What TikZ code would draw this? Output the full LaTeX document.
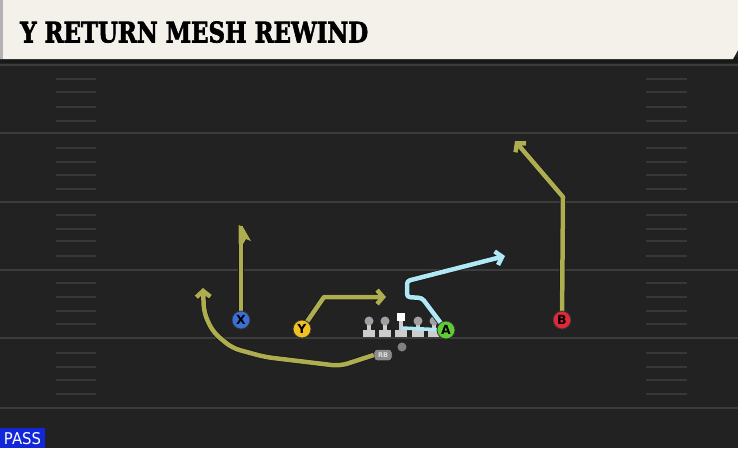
\documentclass[tikz,border=0pt]{standalone}
\usepackage{fontspec}
\usepackage{graphicx}
\usetikzlibrary{arrows.meta}
\newfontfamily\titlefont{DejaVu Serif}[FakeBold=2.5]
\newfontfamily\labelfont{DejaVu Sans}
\definecolor{fieldbg}{RGB}{34,34,34}
\definecolor{yardline}{RGB}{60,60,60}
\definecolor{hashline}{RGB}{56,56,56}
\definecolor{headerbg}{RGB}{244,241,234}
\definecolor{routeolive}{RGB}{174,174,80}
\definecolor{routecyan}{RGB}{176,232,246}
\definecolor{xblue}{RGB}{58,112,214}
\definecolor{yyellow}{RGB}{242,192,34}
\definecolor{agreen}{RGB}{96,204,52}
\definecolor{bred}{RGB}{222,42,54}
\definecolor{passblue}{RGB}{18,38,218}
\definecolor{olhead}{RGB}{160,160,160}
\definecolor{olbody}{RGB}{205,205,205}

\begin{document}
\begin{tikzpicture}[x=1pt,y=-1pt]
\tikzstyle{every node}+=[inner sep=0pt]
\tikzstyle{yard}=[yardline, line width=2.2pt]
\tikzstyle{hash}=[hashline, line width=1.8pt]
\tikzstyle{player}=[circle, draw=black!80, line width=0.8pt, minimum size=18pt, font=\labelfont\bfseries\fontsize{12.5}{12.5}\selectfont]
\tikzstyle{route}=[routeolive, line width=4.5pt, line join=round, -{Straight Barb[length=6pt,width=14pt]}, preaction={draw=black!90, line width=6pt}]
\tikzstyle{cyanroute}=[routecyan, line width=4.5pt, line join=round, -{Straight Barb[length=6pt,width=14pt]}, preaction={draw=black!90, line width=6pt}]
\useasboundingbox (0,0) rectangle (738,448);
\fill [fieldbg] (0,0) rectangle (738,448);
\draw [yard] (0,65) -- (738,65);
\draw [yard] (0,133) -- (738,133);
\draw [yard] (0,202) -- (738,202);
\draw [yard] (0,270) -- (738,270);
\draw [yard] (0,338) -- (738,338);
\draw [yard] (0,408) -- (738,408);
\draw [hash] (56,79) -- (96,79) (646,79) -- (687,79);
\draw [hash] (56,92) -- (96,92) (646,92) -- (687,92);
\draw [hash] (56,107) -- (96,107) (646,107) -- (687,107);
\draw [hash] (56,121) -- (96,121) (646,121) -- (687,121);
\draw [hash] (56,148) -- (96,148) (646,148) -- (687,148);
\draw [hash] (56,162) -- (96,162) (646,162) -- (687,162);
\draw [hash] (56,175) -- (96,175) (646,175) -- (687,175);
\draw [hash] (56,189) -- (96,189) (646,189) -- (687,189);
\draw [hash] (56,215) -- (96,215) (646,215) -- (687,215);
\draw [hash] (56,229) -- (96,229) (646,229) -- (687,229);
\draw [hash] (56,241) -- (96,241) (646,241) -- (687,241);
\draw [hash] (56,256) -- (96,256) (646,256) -- (687,256);
\draw [hash] (56,283) -- (96,283) (646,283) -- (687,283);
\draw [hash] (56,297) -- (96,297) (646,297) -- (687,297);
\draw [hash] (56,311) -- (96,311) (646,311) -- (687,311);
\draw [hash] (56,324) -- (96,324) (646,324) -- (687,324);
\draw [hash] (56,353) -- (96,353) (646,353) -- (687,353);
\draw [hash] (56,367) -- (96,367) (646,367) -- (687,367);
\draw [hash] (56,380) -- (96,380) (646,380) -- (687,380);
\draw [hash] (56,394) -- (96,394) (646,394) -- (687,394);
\fill [black!90] (0,57) rectangle (738,63);
\fill [headerbg] (0,0) -- (738,0) -- (738,50) -- (733,59) -- (0,59) -- cycle;
\fill [black!30] (0,0) rectangle (3,59);
\node [anchor=south west] (title) at (20,43) {\resizebox{348pt}{21pt}{\titlefont\bfseries Y RETURN MESH REWIND}};
\fill [passblue] (0,428) rectangle (45,448);
\node [white] (pass) at (22.5,438.5) {\resizebox{37pt}{12pt}{\labelfont PASS}};
\fill [olbody] (367,322) rectangle (371,332);
\fill [olbody] (363,330) rectangle (375,337);
\fill [olhead] (369,321) circle (4.5);
\fill [olbody] (383,322) rectangle (387,332);
\fill [olbody] (379,330) rectangle (391,337);
\fill [olhead] (385,321) circle (4.5);
\fill [olbody] (399,320) rectangle (403,332);
\fill [olbody] (395,330) rectangle (407,337);
\fill [white] (397,313) rectangle (405,321);
\fill [olbody] (416,322) rectangle (420,332);
\fill [olbody] (412,330) rectangle (424,337);
\fill [olhead] (418,321) circle (4.5);
\fill [olbody] (432,322) rectangle (436,332);
\fill [olbody] (428,330) rectangle (440,337);
\fill [olhead] (434,321) circle (4.5);
\node [circle, fill=black!50, minimum size=9pt] (ball) at (402,347) {};
\node [draw=black, fill=black!45, rounded corners=3pt, minimum width=18pt, minimum height=11pt, text=black!12, font=\labelfont\bfseries\fontsize{6.5}{6.5}\selectfont] (RB) at (383,355) {RB};
\coordinate (x1) at (241,226);
\coordinate (y1) at (324,297);
\coordinate (y2) at (386,297);
\coordinate (b1) at (563,197);
\coordinate (b2) at (515,141);
\coordinate (a0) at (402,328);
\coordinate (a1) at (422,298);
\coordinate (a2) at (407,297);
\coordinate (a3) at (407,281);
\coordinate (a4) at (505,256);
\coordinate (r1) at (340,366);
\coordinate (r2) at (265,357);
\coordinate (r3) at (232,348);
\coordinate (r4) at (213,332);
\coordinate (r5) at (204,313);
\coordinate (r6) at (203,288);
\coordinate (xs) at (241,320);
\coordinate (ys) at (302,329);
\coordinate (as) at (446,330);
\coordinate (bs) at (562,320);
\draw [routeolive, line width=4.5pt, preaction={draw=black!90, line width=6pt}] (xs) -- (x1);
\fill [routeolive] (238.7,225) -- (243,227) -- (251,241) -- (246,239) -- (243,244) -- (238.7,244) -- cycle;
\draw [route] (ys) -- (y1) -- (y2);
\draw [route] (bs) -- (b1) -- (b2);
\draw [routecyan, line width=3.5pt] (as) -- (a0);
\draw [cyanroute, rounded corners=3pt] (as) -- (a1) -- (a2) -- (a3) -- (a4);
\draw [route, rounded corners=8pt] (RB.west) -- (r1) -- (r2) -- (r3) -- (r4) -- (r5) -- (r6);
\node [player, fill=xblue] (X) at (xs) {X};
\node [player, fill=yyellow] (Y) at (ys) {Y};
\node [player, fill=agreen] (A) at (as) {A};
\node [player, fill=bred] (B) at (bs) {B};
\end{tikzpicture}
\end{document}
